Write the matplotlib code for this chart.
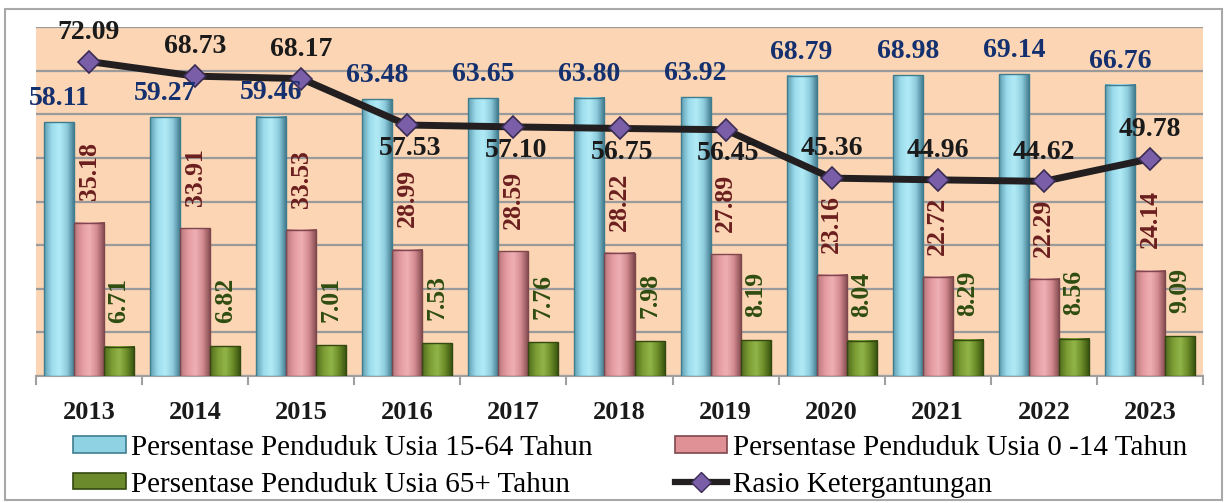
import matplotlib
matplotlib.use("Agg")
import matplotlib.pyplot as plt
import numpy as np
from matplotlib.lines import Line2D
from matplotlib.patches import Patch, Rectangle
from matplotlib.colors import LinearSegmentedColormap

years = ["2013", "2014", "2015", "2016", "2017", "2018", "2019", "2020", "2021", "2022", "2023"]
usia_15_64 = [58.11, 59.27, 59.46, 63.48, 63.65, 63.80, 63.92, 68.79, 68.98, 69.14, 66.76]
usia_0_14 = [35.18, 33.91, 33.53, 28.99, 28.59, 28.22, 27.89, 23.16, 22.72, 22.29, 24.14]
usia_65 = [6.71, 6.82, 7.01, 7.53, 7.76, 7.98, 8.19, 8.04, 8.29, 8.56, 9.09]
rasio = [72.09, 68.73, 68.17, 57.53, 57.10, 56.75, 56.45, 45.36, 44.96, 44.62, 49.78]
rasio_label_pos = ["above", "above", "above", "below", "below", "below", "below",
                   "above", "above", "above", "above"]

names = ["Persentase Penduduk Usia 15-64 Tahun", "Persentase Penduduk Usia 0 -14 Tahun",
         "Persentase Penduduk Usia 65+ Tahun", "Rasio Ketergantungan"]

plt.rcParams['font.family'] = ['Liberation Serif', 'DejaVu Serif']

W, H = 1227, 503
fig = plt.figure(figsize=(W / 100, H / 100), dpi=100)
ax = fig.add_axes([36 / W, 1 - 376 / H, (1203 - 36) / W, (376 - 27) / H])
ax.set_facecolor("#fbd5b4")

x = np.arange(len(years))
bw = 0.283
c_blue, c_pink, c_green = "#8fd2e4", "#df9196", "#6a8a2c"
e_blue, e_pink, e_green = "#3f7d8e", "#7e474c", "#33490f"
grad_blue = LinearSegmentedColormap.from_list("gb", ["#5f9fb2", "#9cdcec", "#b2ebf6", "#8ccbdc", "#3c7688"])
grad_pink = LinearSegmentedColormap.from_list("gp", ["#b8757b", "#e39aa0", "#efb0b5", "#d28a90", "#7e474c"])
grad_green = LinearSegmentedColormap.from_list("gg", ["#4f6c1c", "#7c9c34", "#92b548", "#6a8a28", "#34500e"])

b1 = ax.bar(x - bw, usia_15_64, bw, facecolor="none", edgecolor=e_blue, linewidth=1.0, zorder=4)
b2 = ax.bar(x, usia_0_14, bw, facecolor="none", edgecolor=e_pink, linewidth=1.0, zorder=4)
b3 = ax.bar(x + bw, usia_65, bw, facecolor="none", edgecolor=e_green, linewidth=1.0, zorder=4)

grad = np.linspace(0, 1, 64).reshape(1, -1)
for bars, cm in [(b1, grad_blue), (b2, grad_pink), (b3, grad_green)]:
    for r in bars:
        x0, h = r.get_x(), r.get_height()
        ax.imshow(grad, cmap=cm, extent=[x0, x0 + r.get_width(), 0, h], aspect="auto",
                  interpolation="bicubic", zorder=3)

ax.plot(x, rasio, color="#231f20", linewidth=5, zorder=5, marker="D", markersize=11,
        markerfacecolor="#7a5fa8", markeredgecolor="#3a2c55", markeredgewidth=1.2)

ax.set_ylim(0, 80)
ax.set_xlim(-0.5, len(years) - 0.5)
ax.set_yticks(np.arange(0, 81, 10))
ax.yaxis.grid(True, color="#9a9a9a", linewidth=1.6, zorder=1)
ax.tick_params(axis="y", left=False, labelleft=False)
ax.set_xticks(x)
ax.set_xticklabels(years, fontsize=19, fontweight="bold", color="#1a1a1a")
ax.tick_params(axis="x", length=0, pad=18)
for xb in np.arange(-0.5, len(years), 1.0):
    ax.plot([xb, xb], [0, -1.8], color="#a0a0a0", linewidth=1.5, clip_on=False, zorder=2)
for s in ["left", "right", "top"]:
    ax.spines[s].set_visible(False)
ax.spines["bottom"].set_color("#a0a0a0")
ax.spines["bottom"].set_linewidth(1.5)

for xi, v in zip(x, usia_15_64):
    ax.annotate(f"{v:.2f}", (xi - bw, v), xytext=(0, 8), textcoords="offset points",
                ha="center", va="bottom", fontsize=20, fontweight="bold", color="#14306e", zorder=6)
for xi, v in zip(x, usia_0_14):
    ax.annotate(f"{v:.2f}", (xi, v), xytext=(0, 16), textcoords="offset points",
                ha="center", va="bottom", rotation=90, fontsize=18.5, fontweight="bold",
                color="#6b1e1e", zorder=6)
for xi, v in zip(x, usia_65):
    ax.annotate(f"{v:.2f}", (xi + bw, v), xytext=(0, 17), textcoords="offset points",
                ha="center", va="bottom", rotation=90, fontsize=18.5, fontweight="bold",
                color="#2f4d10", zorder=6)
for xi, v, pos in zip(x, rasio, rasio_label_pos):
    if pos == "above":
        ax.annotate(f"{v:.2f}", (xi, v), xytext=(0, 12), textcoords="offset points",
                    ha="center", va="bottom", fontsize=20, fontweight="bold", color="#1a1a1a", zorder=7)
    else:
        ax.annotate(f"{v:.2f}", (xi, v), xytext=(2, -8), textcoords="offset points",
                    ha="center", va="top", fontsize=20, fontweight="bold", color="#1a1a1a", zorder=7)

handles = [Patch(facecolor=c_blue, edgecolor=e_blue, linewidth=1.2),
           Patch(facecolor=c_green, edgecolor=e_green, linewidth=1.2),
           Patch(facecolor=c_pink, edgecolor=e_pink, linewidth=1.2),
           Line2D([0], [0], color="#231f20", linewidth=4.5, marker="D", markersize=10,
                  markerfacecolor="#7a5fa8", markeredgecolor="#3a2c55")]
labels = [names[0], names[2], names[1], names[3]]
fig.legend(handles, labels, ncol=2, loc="upper left", bbox_to_anchor=(73 / W, 1 - 435 / H),
           frameon=False, fontsize=21, handlelength=1.8, handleheight=0.5, handletextpad=0.2,
           columnspacing=2.8, labelspacing=0.36, borderaxespad=0, borderpad=0)

fig.patches.append(Rectangle((5 / W, 3 / H), 1217 / W, 491 / H, transform=fig.transFigure,
                             fill=False, edgecolor="#a8a8a8", linewidth=1.5))

fig.savefig("out.png", dpi=100)
